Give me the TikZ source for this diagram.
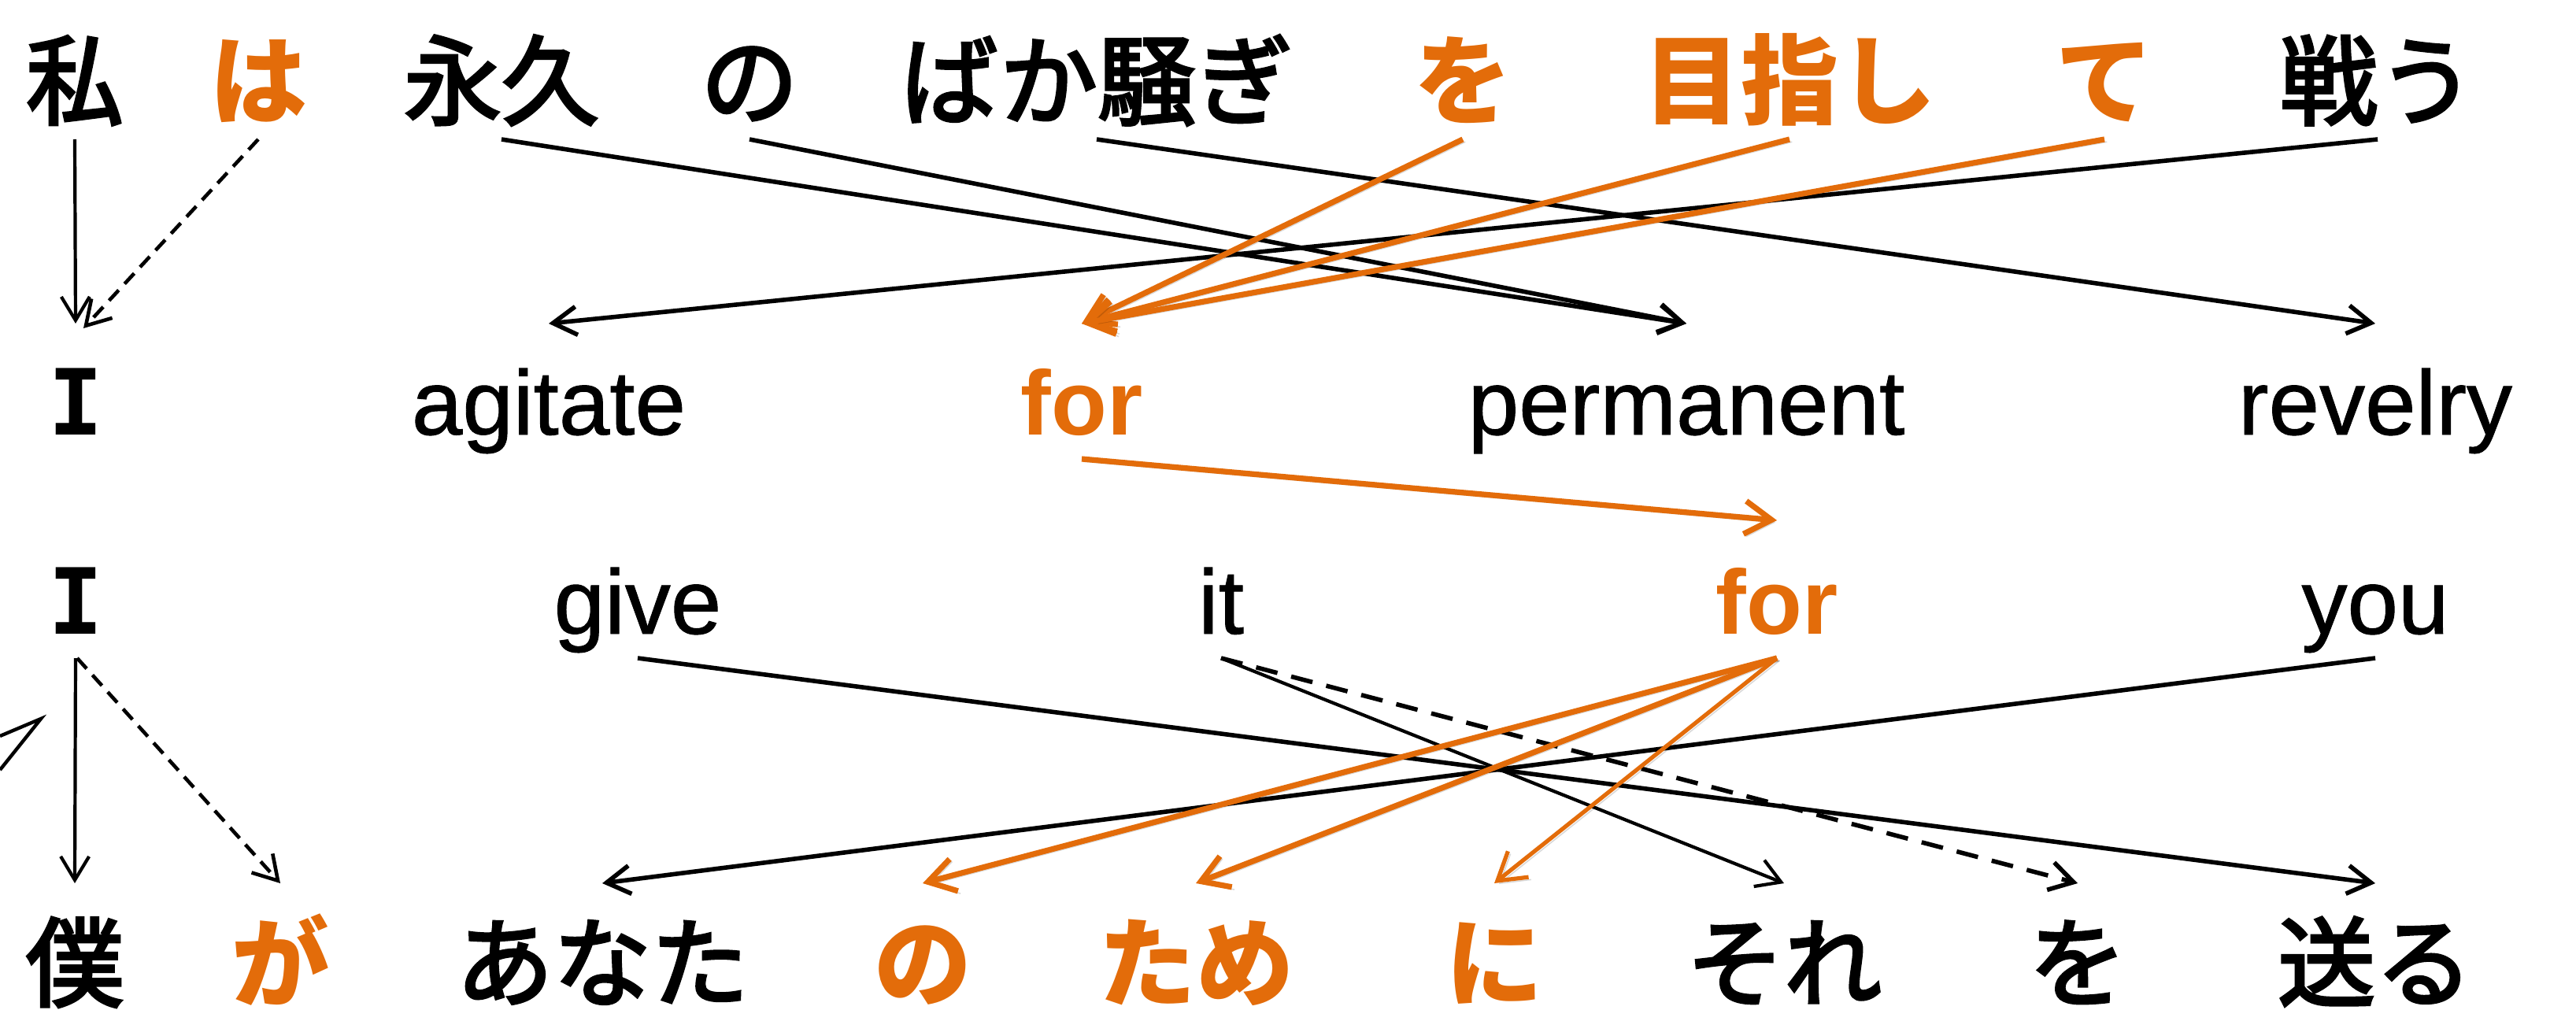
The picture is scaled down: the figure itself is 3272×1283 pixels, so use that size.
\documentclass[tikz,border=0pt]{standalone}
\usepackage{fontspec}
\usetikzlibrary{arrows.meta}
\newfontfamily\jp[FakeBold=3]{Noto Sans CJK JP}
\newfontfamily\jpb{Noto Sans CJK JP}
\newfontfamily\en[FakeBold=0.8]{Liberation Sans}
\newfontfamily\enb{Liberation Sans}
\newfontfamily\mono{DejaVu Sans Mono}
\definecolor{org}{RGB}{227,108,10}
\tikzset{
  w/.style={inner sep=0pt, outer sep=0pt, anchor=base},
  jpw/.style={w, font=\jp\fontsize{31pt}{31pt}\selectfont},
  jpo/.style={jpw, text=org, font=\jpb\bfseries\fontsize{31pt}{31pt}\selectfont},
  enw/.style={w, font=\en\fontsize{29pt}{29pt}\selectfont},
  eno/.style={enw, text=org, font=\enb\bfseries\fontsize{29pt}{29pt}\selectfont},
  iw/.style={w, font=\mono\bfseries\fontsize{29pt}{29pt}\selectfont},
  rowA/.style={text height=25pt, text depth=7pt},
  rowB/.style={text height=35.25pt, text depth=7.75pt},
  rowC/.style={text height=36pt, text depth=7.75pt},
  rowD/.style={text height=36.75pt, text depth=2pt},
  tipb/.style={-{Straight Barb[length=7.5pt,width=9pt]}},
  tipo/.style={-{Straight Barb[length=8.5pt,width=10.5pt]}},
  blk/.style={draw=black, line width=1.4pt, tipb},
  blkthin/.style={draw=black, line width=1.05pt, tipb},
  blkdash/.style={draw=black, line width=1.15pt, tipb, dash pattern=on 4.5pt off 2.75pt},
  blkdashb/.style={draw=black, line width=1.4pt, tipb, dash pattern=on 7pt off 4.5pt},
  orr/.style={draw=org, line width=1.8pt, tipo,
    preaction={draw=black, draw opacity=0.15, transform canvas={shift={(0.8pt,-0.8pt)}}}},
  orrthin/.style={orr, line width=1.3pt},
}
\begin{document}
\begin{tikzpicture}[x=0.25pt,y=-0.25pt]
\useasboundingbox (0,0) rectangle (3272,1283);
% row 1
\node[jpw,rowA] (a1) at (95,149) {私};
\node[jpo,rowA] (a2) at (328,149) {は};
\node[jpw,rowA] (a3) at (637,149) {永久};
\node[jpw,rowA] (a4) at (952,149) {の};
\node[jpw,rowA] (a5) at (1393,149) {ばか騒ぎ};
\node[jpo,rowA] (a6) at (1858,149) {を};
\node[jpo,rowA] (a7) at (2273,149) {目指し};
\node[jpo,rowA] (a8) at (2673,149) {て};
\node[jpw,rowA] (a9) at (3020,149) {戦う};
% row 2
\node[iw,rowB] (b1) at (96,552) {I};
\node[enw,rowB] (b2) at (697,552) {agitate};
\node[eno,rowB] (b3) at (1374,552) {for};
\node[enw,rowB] (b4) at (2142,552) {permanent};
\node[enw,rowB] (b5) at (3017,552) {revelry};
% row 3
\node[iw,rowC] (c1) at (96,805) {I};
\node[enw,rowC] (c2) at (810,805) {give};
\node[enw,rowC] (c3) at (1551,805) {it};
\node[eno,rowC] (c4) at (2257,805) {for};
\node[enw,rowC] (c5) at (3017,805) {you};
% row 4
\node[jpw,rowD] (d1) at (95,1269) {僕};
\node[jpo,rowD] (d2) at (356,1269) {が};
\node[jpw,rowD] (d3) at (765,1269) {あなた};
\node[jpo,rowD] (d4) at (1172,1269) {の};
\node[jpo,rowD] (d5) at (1519,1269) {ため};
\node[jpo,rowD] (d6) at (1898,1269) {に};
\node[jpw,rowD] (d7) at (2266,1269) {それ};
\node[jpw,rowD] (d8) at (2639,1269) {を};
\node[jpw,rowD] (d9) at (3017,1269) {送る};
% row 1 -> row 2
\draw[blkthin] (a1.south) -- (b1.north);
\draw[blkdash] (a2.south) -- ([xshift=2.5pt,yshift=-1.5pt]b1.north);
\draw[blk] (a3.south) -- (b4.north);
\draw[blk] (a4.south) -- (b4.north);
\draw[blk] (a5.south) -- (b5.north);
\draw[blk] (a9.south) -- (b2.north);
\draw[orr] (a6.south) -- (b3.north);
\draw[orr] (a7.south) -- (b3.north);
\draw[orr] (a8.south) -- (b3.north);
% row 2 -> row 3
\draw[orr] (b3.south) -- (c4.north);
% row 3 -> row 4
\draw[blkthin] (c1.south) -- (d1.north);
\draw[blkdash] ([xshift=0.5pt]c1.south) -- (d2.north);
\draw[blk] (c2.south) -- (d9.north);
\draw[blk] (c5.south) -- (d3.north);
\draw[blkthin] (c3.south) -- (d7.north);
\draw[blkdashb] (c3.south) -- (d8.north);
\draw[orr] (c4.south) -- (d4.north);
\draw[orr] (c4.south) -- (d5.north);
\draw[orrthin] (c4.south) -- (d6.north);
% fragment at left edge
\draw[black, line width=1.1pt] (0,935) -- (52,913) -- (0,978);
\end{tikzpicture}
\end{document}
